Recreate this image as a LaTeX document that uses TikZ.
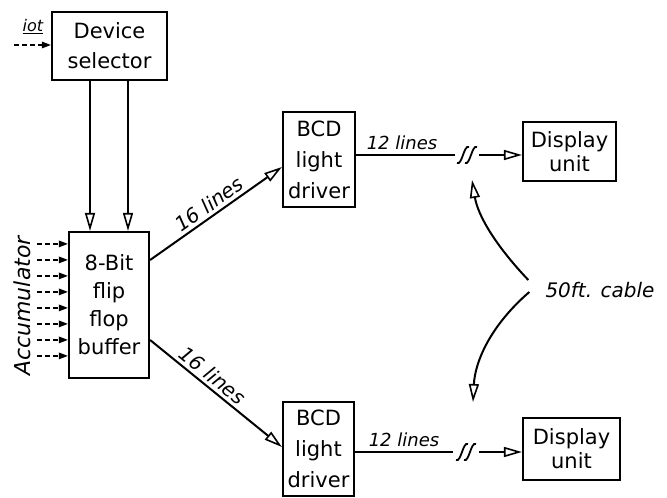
\documentclass[tikz,border=0pt]{standalone}
\usepackage{fontspec}
\setmainfont{DejaVu Sans}
\usetikzlibrary{arrows.meta,calc}
\begin{document}
\begin{tikzpicture}[x=1pt,y=-1pt,
 box/.style={draw,line width=2.2pt,inner sep=0pt,align=center,font=\fontsize{21}{30}\selectfont},
 conn/.style={line width=2pt},
 tip/.style={-{Triangle[open,length=18pt,width=10pt,line width=1.6pt]}},
 lbl/.style={font=\fontsize{18}{20}\selectfont\itshape,inner sep=1pt},
 small/.style={-{Triangle[length=9pt,width=6.5pt]}, line width=1.3pt, dash pattern=on 5pt off 3pt},
 brk/.pic={\foreach \dx in {-4,4}{\draw[line width=1.8pt] (\dx-6,8) .. controls (\dx-1,11) and (\dx+1,-11) .. (\dx+6,-8);}}
]
\useasboundingbox (0,0) rectangle (667,498);

% boxes
\node[box,minimum width=115pt,minimum height=68pt] (ds) at (109.5,46) {Device\\selector};
\node[box,minimum width=80pt,minimum height=146pt,font=\fontsize{21}{28}\selectfont] (buf) at (109,305) {8-Bit\\flip\\flop\\buffer};
\node[box,minimum width=72pt,minimum height=95pt,font=\fontsize{21}{31}\selectfont] (bcd1) at (319,159.5) {BCD\\light\\driver};
\node[box,minimum width=71pt,minimum height=94pt,font=\fontsize{21}{31}\selectfont] (bcd2) at (318.5,449) {BCD\\light\\driver};
\node[box,minimum width=93pt,minimum height=59pt,font=\fontsize{21}{24}\selectfont] (dis1) at (569.5,151.5) {Display\\unit};
\node[box,minimum width=97pt,minimum height=62pt,font=\fontsize{21}{24}\selectfont] (dis2) at (571.5,449) {Display\\unit};

% labels
\node[lbl,font=\fontsize{16}{18}\selectfont\itshape] (iot) at (33,27) {\underline{iot}};
\node[lbl,font=\fontsize{22}{24}\selectfont\itshape,rotate=90] (acc) at (22,306) {Accumulator};
\node[lbl] (l12a) at (402,143) {12 lines};
\node[lbl] (l12b) at (404,440) {12 lines};
\node[lbl,font=\fontsize{20}{22}\selectfont\itshape] (cab) at (600,290) {50ft. cable};

% iot input
\coordinate (iotin) at (14,45);
\draw[small] (iotin) -- (iotin -| ds.west);

% accumulator inputs
\foreach \i in {0,...,7}{
  \draw[small] ($(buf.north west)+(-31,13+16*\i)$) -- ($(buf.north west)+(0,13+16*\i)$);
}

% selector to buffer
\draw[conn,tip] ([xshift=-19.5pt]ds.south) -- ([xshift=-19.5pt]ds.south |- buf.north);
\draw[conn,tip] ([xshift=18.5pt]ds.south) -- ([xshift=18.5pt]ds.south |- buf.north);

% buffer to BCD drivers
\draw[conn,tip] ([yshift=45pt]buf.east) -- node[lbl,font=\fontsize{20}{22}\selectfont\itshape,sloped,above=2pt,pos=0.5] (l16a) {16 lines} ([yshift=-7.5pt]bcd1.west);
\draw[conn,tip] ([yshift=-35pt]buf.east) -- node[lbl,font=\fontsize{20}{22}\selectfont\itshape,sloped,above=2pt,pos=0.42] (l16b) {16 lines} ([yshift=2pt]bcd2.west);

% BCD to display with cable breaks
\coordinate (b1a) at (455,155);
\coordinate (b1b) at (479,155);
\draw[conn] ([yshift=4.5pt]bcd1.east) -- (b1a);
\pic at (467,155) {brk};
\draw[conn,tip] (b1b) -- (b1b -| dis1.west);

\coordinate (b2a) at (453,452);
\coordinate (b2b) at (479,452);
\draw[conn] ([yshift=-3pt]bcd2.east) -- (b2a);
\pic at (466,452) {brk};
\draw[conn,tip] (b2b) -- (b2b -| dis2.west);

% 50 ft cable pointers
\coordinate (c1) at (472,180);
\coordinate (c2) at (473,402);
\draw[conn,tip] ([xshift=-16pt,yshift=10pt]cab.west) .. controls (496,246) and (478,216) .. (c1);
\draw[conn,tip] ([xshift=-15pt,yshift=-2pt]cab.west) .. controls (490,326) and (475,362) .. (c2);
\end{tikzpicture}
\end{document}
